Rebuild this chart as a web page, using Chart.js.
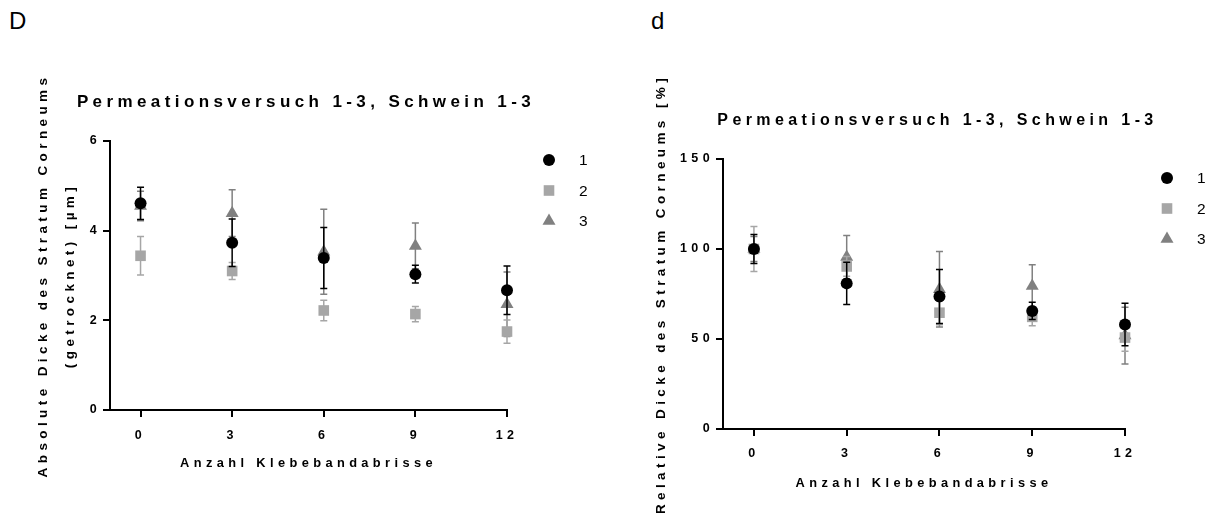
<!DOCTYPE html>
<html>
<head>
<meta charset="utf-8">
<script src="https://cdn.jsdelivr.net/npm/chart.js@4.4.0/dist/chart.umd.min.js"></script>
<style>
  html, body { margin: 0; padding: 0; background: #fff; width: 1215px; height: 517px; overflow: hidden; position: relative; }
  .panel { position: absolute; top: 0; }
  .tag { position: absolute; font-family: "Liberation Sans", Arial, sans-serif; font-size: 24px; line-height: 1; color: #000; }
</style>
</head>
<body>
<div class="tag" style="left:9px;top:9px">D</div>
<div class="tag" style="left:651px;top:9px">d</div>
<canvas id="chartAbs" class="panel" width="612" height="517" style="left:0"></canvas>
<canvas id="chartRel" class="panel" width="603" height="517" style="left:636px"></canvas>
<script>
"use strict";

// tape strips removed (x) and tick labels
const xTicks = [0, 3, 6, 9, 12];
const absTicks = [0, 2, 4, 6];
const relTicks = [0, 50, 100, 150];
const seriesNames = ['1', '2', '3'];

// absolute thickness (µm), mean and SD per pig
const abs1 = [4.61, 3.73, 3.39, 3.03, 2.67];
const abs1Err = [0.36, 0.53, 0.68, 0.20, 0.54];
const abs2 = [3.44, 3.10, 2.22, 2.14, 1.75];
const abs2Err = [0.43, 0.19, 0.23, 0.17, 0.26];
const abs3 = [4.55, 4.39, 3.53, 3.66, 2.36];
const abs3Err = [0.33, 0.52, 0.95, 0.51, 0.72];

// relative thickness (%), mean and SD per pig
const rel1 = [100, 80.9, 73.6, 65.6, 58.1];
const rel1Err = [8, 11.8, 15, 4.8, 11.8];
const rel2 = [100, 90.3, 64.6, 62.3, 50.8];
const rel2Err = [12.5, 5.5, 6.7, 5, 7.6];
const rel3 = [100, 95.5, 77.6, 79.5, 51.9];
const rel3Err = [7, 12, 21, 11.7, 15.8];

const FONT = "'Liberation Sans', Arial, Helvetica, sans-serif";
const LETTER_SPACING = '4.4px';
const COLORS = ['#000000', '#a6a6a6', '#808080'];
const STYLES = ['circle', 'rect', 'triangle'];
const RADII = [6, 7.5, 7.5];

// GraphPad-like spaced lettering
const spacingPlugin = {
    id: 'spacing',
    afterInit: function (chart) { chart.ctx.letterSpacing = LETTER_SPACING; },
    beforeUpdate: function (chart) { chart.ctx.letterSpacing = LETTER_SPACING; },
    beforeDraw: function (chart) { chart.ctx.letterSpacing = LETTER_SPACING; }
};

// SD bars drawn just before each dataset's own points
const errorBarPlugin = {
    id: 'errorBars',
    beforeDatasetDraw: function (chart, args) {
        var ds = chart.data.datasets[args.index];
        if (!ds.errors) return;
        var ctx = chart.ctx;
        var xs = chart.scales.x;
        var ys = chart.scales.y;
        ctx.save();
        ctx.strokeStyle = ds.backgroundColor;
        ctx.lineWidth = 1.5;
        ds.data.forEach(function (p, i) {
            var e = ds.errors[i];
            var x = xs.getPixelForValue(p.x);
            var top = ys.getPixelForValue(p.y + e);
            var bot = ys.getPixelForValue(p.y - e);
            ctx.beginPath();
            ctx.moveTo(x, top); ctx.lineTo(x, bot);
            ctx.moveTo(x - 3.5, top); ctx.lineTo(x + 3.5, top);
            ctx.moveTo(x - 3.5, bot); ctx.lineTo(x + 3.5, bot);
            ctx.stroke();
        });
        ctx.restore();
    }
};

// legend sitting in the reserved space right of the plot
const sideLegendPlugin = {
    id: 'sideLegend',
    afterDraw: function (chart) {
        var ctx = chart.ctx;
        var area = chart.chartArea;
        ctx.save();
        chart.data.datasets.forEach(function (ds, i) {
            var x = area.right + 42;
            var y = area.top + 19 + i * 30.5;
            ctx.fillStyle = ds.backgroundColor;
            ctx.strokeStyle = ds.backgroundColor;
            Chart.helpers.drawPoint(ctx, { pointStyle: ds.pointStyle, radius: ds.pointRadius, rotation: 0, borderWidth: 0 }, x, y);
            ctx.fillStyle = '#000';
            ctx.font = '15.5px ' + FONT;
            ctx.textAlign = 'left';
            ctx.textBaseline = 'middle';
            ctx.fillText(ds.label, area.right + 72, y + 1);
        });
        ctx.restore();
    }
};

function axisLines() {
    return {
        grid: { display: true, drawOnChartArea: false, drawTicks: true, tickLength: 7, color: '#000', lineWidth: 2 },
        border: { display: true, color: '#000', width: 2 }
    };
}

function makeChart(id, o) {
    var datasets = o.series.map(function (vals, i) {
        return {
            label: seriesNames[i],
            data: xTicks.map(function (x, j) { return { x: x, y: vals[j] }; }),
            errors: o.errors[i],
            backgroundColor: COLORS[i],
            borderColor: COLORS[i],
            pointStyle: STYLES[i],
            pointRadius: RADII[i],
            pointHoverRadius: RADII[i],
            pointBorderWidth: 0,
            showLine: false,
            clip: false
        };
    });

    var xl = axisLines();
    var yl = axisLines();

    return new Chart(document.getElementById(id), {
        type: 'scatter',
        data: { datasets: datasets },
        options: {
            responsive: false,
            animation: false,
            events: [],
            layout: { padding: 0 },
            plugins: {
                legend: { display: false },
                tooltip: { enabled: false },
                title: {
                    display: true,
                    text: 'Permeationsversuch 1-3, Schwein 1-3',
                    color: '#000',
                    font: { family: FONT, size: o.titleSize, weight: 'bold', lineHeight: 1.2 },
                    padding: { top: o.titleTop, bottom: o.titleBottom }
                }
            },
            scales: {
                x: {
                    type: 'linear',
                    position: 'bottom',
                    min: -1,
                    max: 12,
                    afterBuildTicks: function (s) { s.ticks = xTicks.map(function (v) { return { value: v }; }); },
                    afterFit: function (s) { s.height = o.xHeight; },
                    grid: xl.grid,
                    border: xl.border,
                    ticks: { color: '#000', padding: o.xTickPad, maxRotation: 0, font: { family: FONT, size: 12.5, weight: 'bold' } },
                    title: {
                        display: true,
                        text: 'Anzahl Klebebandabrisse',
                        color: '#000',
                        font: { family: FONT, size: 12.8, weight: 'bold', lineHeight: 1.2 },
                        padding: { top: 0, bottom: o.xTitlePad }
                    }
                },
                y: {
                    type: 'linear',
                    position: 'left',
                    min: 0,
                    max: o.yMax,
                    afterBuildTicks: function (s) { s.ticks = o.yTicks.map(function (v) { return { value: v }; }); },
                    afterFit: function (s) { s.width = o.yWidth; },
                    grid: yl.grid,
                    border: yl.border,
                    ticks: { color: '#000', padding: 2, font: { family: FONT, size: 12.5, weight: 'bold' } },
                    title: {
                        display: true,
                        text: o.yTitle,
                        color: '#000',
                        font: { family: FONT, size: 13.5, weight: 'bold', lineHeight: o.yTitleLH },
                        padding: { top: o.yTitlePad, bottom: 0 }
                    }
                },
                // empty box that keeps room for the legend
                side: {
                    type: 'linear',
                    position: 'right',
                    display: true,
                    grid: { display: false },
                    border: { display: false },
                    ticks: { display: false },
                    afterFit: function (s) { s.width = o.sideWidth; }
                }
            }
        },
        plugins: [spacingPlugin, errorBarPlugin, sideLegendPlugin]
    });
}

makeChart('chartAbs', {
    series: [abs1, abs2, abs3],
    errors: [abs1Err, abs2Err, abs3Err],
    yMax: 6,
    yTicks: absTicks,
    yTitle: ['Absolute Dicke des Stratum Corneums', '(getrocknet) [µm]'],
    yTitleLH: 2.0,
    yTitlePad: 30,
    yWidth: 110,
    sideWidth: 105,
    xHeight: 107,
    xTickPad: 11,
    xTitlePad: 46.3,
    titleSize: 17,
    titleTop: 91.8,
    titleBottom: 28.8
});

makeChart('chartRel', {
    series: [rel1, rel2, rel3],
    errors: [rel1Err, rel2Err, rel3Err],
    yMax: 150,
    yTicks: relTicks,
    yTitle: 'Relative Dicke des Stratum Corneums [%]',
    yTitleLH: 1.2,
    yTitlePad: 17,
    yWidth: 87,
    sideWidth: 114,
    xHeight: 88,
    xTickPad: 10,
    xTitlePad: 26.3,
    titleSize: 16,
    titleTop: 111.4,
    titleBottom: 28.4
});
</script>
</body>
</html>
